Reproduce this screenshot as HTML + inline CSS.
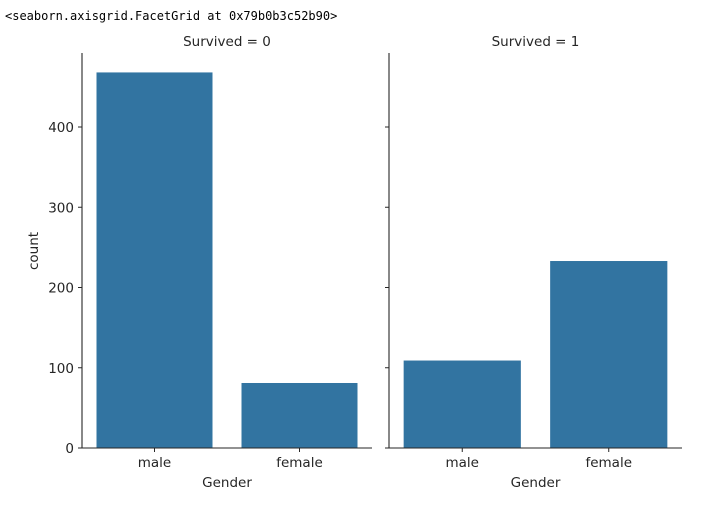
<!DOCTYPE html>
<html><head><meta charset="utf-8"><style>
body{margin:0;background:#fff;}
text{font-family:"DejaVu Sans","Liberation Sans",sans-serif;fill:#262626;}
</style></head><body>
<svg id="chart" width="710" height="511" xmlns="http://www.w3.org/2000/svg">
<text x="5" y="20" style="font-family:'DejaVu Sans Mono','Liberation Mono',monospace;font-size:12px;fill:#000">&lt;seaborn.axisgrid.FacetGrid at 0x79b0b3c52b90&gt;</text>
<g id="plot"></g>
</svg>
<script>
const categories = ["male","female"];
const panelTitles = ["Survived = 0","Survived = 1"];
const survived0 = [468, 81];
const survived1 = [109, 233];
const yTicks = [0,100,200,300,400];

const svg = document.getElementById('plot');
const NS = "http://www.w3.org/2000/svg";
const y0 = 448, yTop = 53, pxPer = 0.8025;
function yScale(v){ return y0 - v*pxPer; }
function mk(tag, attrs, parent){ const e=document.createElementNS(NS,tag); for(const k in attrs) e.setAttribute(k,attrs[k]); (parent||svg).appendChild(e); return e; }
const panels = [{x0:82,x1:372,data:survived0},{x0:389,x1:682,data:survived1}];
panels.forEach((p,pi)=>{
  const g = mk('g',{});
  
  
  const step=(p.x1-p.x0)/categories.length;
  categories.forEach((c,i)=>{
    const cx=p.x0+step*(i+0.5), w=step*0.8;
    const r=mk('rect',{x:cx-w/2,y:yScale(p.data[i]),width:w,height:y0-yScale(p.data[i]),fill:'#3274a1'},g);
    
    
    mk('line',{x1:cx,x2:cx,y1:y0,y2:y0+4,stroke:'#262626','stroke-width':1},g);
    const t=mk('text',{x:cx,y:y0+19,'text-anchor':'middle','font-size':13.5},g);
    t.textContent=c;
    
    
  });
  mk('line',{x1:p.x0,x2:p.x0,y1:yTop,y2:y0,stroke:'#262626','stroke-width':1.1},g);
  mk('line',{x1:p.x0,x2:p.x1,y1:y0,y2:y0,stroke:'#262626','stroke-width':1.1},g);
  yTicks.forEach(v=>{
    mk('line',{x1:p.x0-4,x2:p.x0,y1:yScale(v),y2:yScale(v),stroke:'#262626','stroke-width':1},g);
    if(pi===0){
      const t=mk('text',{x:p.x0-8,y:yScale(v)+5,'text-anchor':'end','font-size':13.5},g);
      t.textContent=v;
      
      
    }
  });
  const tt=mk('text',{x:(p.x0+p.x1)/2,y:46,'text-anchor':'middle','font-size':13.5},g);
  tt.textContent=panelTitles[pi];
  
  
  const xl=mk('text',{x:(p.x0+p.x1)/2,y:487,'text-anchor':'middle','font-size':13.5},g);
  xl.textContent='Gender';
  
  
});
const yl=mk('text',{x:0,y:0,'text-anchor':'middle','font-size':13.5,transform:'translate(38,251) rotate(-90)'});
yl.textContent='count';


</script>
</body></html>
